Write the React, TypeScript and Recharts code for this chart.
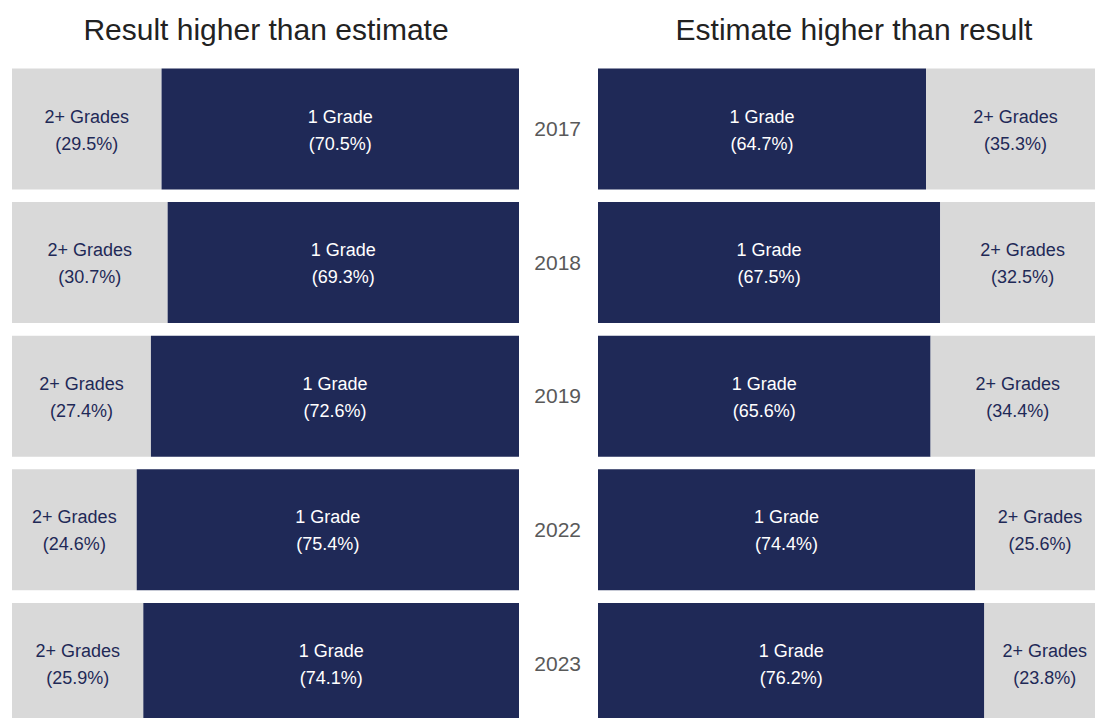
import { BarChart, Bar, XAxis, YAxis, LabelList } from "recharts";

const years = ["2017", "2018", "2019", "2022", "2023"];
// Result higher than estimate
const leftTwoPlus = [29.5, 30.7, 27.4, 24.6, 25.9];
const leftOne = [70.5, 69.3, 72.6, 75.4, 74.1];
// Estimate higher than result
const rightOne = [64.7, 67.5, 65.6, 74.4, 76.2];
const rightTwoPlus = [35.3, 32.5, 34.4, 25.6, 23.8];

const NAVY = "#1f2957";
const GREY = "#d9d9d9";
const FONT = '"Liberation Sans", Arial, sans-serif';

const leftData = years.map((year, i) => ({
  year,
  two: leftTwoPlus[i],
  one: leftOne[i],
}));

const rightData = years.map((year, i) => ({
  year,
  one: rightOne[i],
  two: rightTwoPlus[i],
}));

function makeLabel(name: string, color: string) {
  return (props: any) => {
    const { x, y, width, height, value } = props;
    const cx = x + width / 2;
    const cy = y + height / 2;
    return (
      <g>
        <text
          x={cx}
          y={cy - 12.5}
          textAnchor="middle"
          dominantBaseline="central"
          fill={color}
          fontSize={18}
          fontFamily={FONT}
        >
          {name}
        </text>
        <text
          x={cx}
          y={cy + 14.5}
          textAnchor="middle"
          dominantBaseline="central"
          fill={color}
          fontSize={18}
          fontFamily={FONT}
        >
          {`(${Number(value).toFixed(1)}%)`}
        </text>
      </g>
    );
  };
}

const titleStyle: React.CSSProperties = {
  position: "absolute",
  top: 15,
  fontSize: 30,
  lineHeight: "30px",
  color: "#222222",
  fontFamily: FONT,
  textAlign: "center",
  width: 600,
  whiteSpace: "nowrap",
};

export default function App() {
  return (
    <div
      style={{
        position: "fixed",
        left: 0,
        top: 0,
        width: 1095,
        height: 718,
        overflow: "hidden",
        background: "#ffffff",
        fontFamily: FONT,
      }}
    >
      <div style={{ ...titleStyle, left: 266 - 300 }}>Result higher than estimate</div>
      <div style={{ ...titleStyle, left: 854 - 300 }}>Estimate higher than result</div>

      <div style={{ position: "absolute", left: 12, top: 62 }}>
        <BarChart
          layout="vertical"
          width={507}
          height={668}
          data={leftData}
          margin={{ top: 0, right: 0, bottom: 0, left: 0 }}
          barCategoryGap={6.5}
        >
          <XAxis type="number" domain={[0, 100]} hide />
          <YAxis type="category" dataKey="year" hide />
          <Bar dataKey="two" stackId="a" fill={GREY} isAnimationActive={false}>
            <LabelList dataKey="two" content={makeLabel("2+ Grades", NAVY)} />
          </Bar>
          <Bar dataKey="one" stackId="a" fill={NAVY} isAnimationActive={false}>
            <LabelList dataKey="one" content={makeLabel("1 Grade", "#ffffff")} />
          </Bar>
        </BarChart>
      </div>

      <div style={{ position: "absolute", left: 519, top: 62 }}>
        <BarChart
          layout="vertical"
          width={586}
          height={668}
          data={rightData}
          margin={{ top: 0, right: 0, bottom: 0, left: 0 }}
          barCategoryGap={6.5}
        >
          <XAxis type="number" domain={[0, 100]} hide />
          <YAxis
            type="category"
            dataKey="year"
            width={79}
            axisLine={false}
            tickLine={false}
            tickSize={0}
            tickMargin={17}
            tick={{ fill: "#595959", fontSize: 21, fontFamily: FONT }}
          />
          <Bar dataKey="one" stackId="a" fill={NAVY} isAnimationActive={false}>
            <LabelList dataKey="one" content={makeLabel("1 Grade", "#ffffff")} />
          </Bar>
          <Bar dataKey="two" stackId="a" fill={GREY} isAnimationActive={false}>
            <LabelList dataKey="two" content={makeLabel("2+ Grades", NAVY)} />
          </Bar>
        </BarChart>
      </div>
    </div>
  );
}
